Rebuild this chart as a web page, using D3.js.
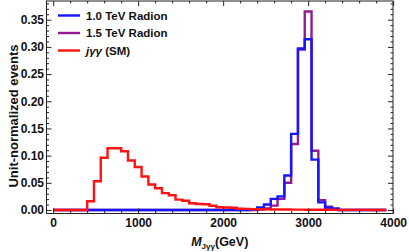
<!DOCTYPE html>
<html>
<head>
<meta charset="utf-8">
<script src="https://cdn.jsdelivr.net/npm/d3@7"></script>
<style>
  body { margin: 0; background: #fff; }
  svg text { font-family: 'Liberation Sans', Arial, sans-serif; font-weight: bold; }
</style>
</head>
<body>
<div id="chart"></div>
<script>
// 80 GeV bins starting at 0 GeV
const binWidth = 80;

const redSM = [0, 0, 0, 0, 0, 0.016, 0.053, 0.096, 0.1135, 0.1135,
  0.108, 0.091, 0.079, 0.0615, 0.047, 0.040, 0.031, 0.027, 0.019, 0.017,
  0.0125, 0.011, 0.0105, 0.0077, 0.005, 0.0045, 0.004, 0.0022, 0.002, 0.0015,
  0.0015, 0.0012, 0.001, 0.001, 0.0008, 0.0006, 0.0006, 0.0005, 0.0005, 0.0004,
  0.0004, 0.0003, 0.0003, 0.0003, 0.0002, 0.0002, 0.0002, 0.0001, 0.0001];

const radion10 = [0, 0, 0, 0, 0, 0, 0, 0, 0, 0,
  0, 0, 0, 0, 0, 0, 0, 0, 0, 0,
  0, 0, 0, 0, 0, 0, 0, 0, 0, 0.001,
  0.0046, 0.010, 0.0205, 0.025, 0.0635, 0.140, 0.297, 0.314, 0.0927, 0.014,
  0.004, 0.003, 0, 0, 0, 0, 0, 0, 0];

const radion15 = [0, 0, 0, 0, 0, 0, 0, 0, 0, 0,
  0, 0, 0, 0, 0, 0, 0, 0, 0, 0,
  0, 0, 0, 0, 0, 0, 0, 0, 0, 0,
  0.001, 0.003, 0.008, 0.0205, 0.050, 0.1215, 0.295, 0.365, 0.109, 0.018,
  0.006, 0.001, 0, 0, 0, 0, 0, 0, 0];

const xTicks = [0, 1000, 2000, 3000, 4000];
const yTicks = [0, 0.05, 0.10, 0.15, 0.20, 0.25, 0.30, 0.35];

const series = [
  { name: '1.5 TeV Radion', values: radion15, color: '#931c90' },
  { name: '1.0 TeV Radion', values: radion10, color: '#1515ff' },
  { name: 'jγγ (SM)', values: redSM, color: '#ff1212' },
];

const width = 409, height = 252;
const frame = { left: 46.5, right: 393, top: 1, bottom: 213.5 };

const svg = d3.select('#chart').append('svg')
  .attr('width', width)
  .attr('height', height);

const x = d3.scaleLinear().domain([-78.4, 3998.4]).range([frame.left, frame.right]);
const y = d3.scaleLinear().domain([-0.00644, 0.3844]).range([frame.bottom, frame.top]);

// histogram step lines
const line = d3.line()
  .curve(d3.curveStepAfter)
  .x(d => x(d.edge))
  .y(d => y(d.value));

const toSteps = vals => {
  const pts = vals.map((v, i) => ({ edge: i * binWidth, value: v }));
  pts.push({ edge: vals.length * binWidth, value: vals[vals.length - 1] });
  return pts;
};

svg.append('g').selectAll('path')
  .data(series)
  .enter()
  .append('path')
  .attr('d', d => line(toSteps(d.values)))
  .attr('fill', 'none')
  .attr('stroke', d => d.color)
  .attr('stroke-width', 2.4)
  .attr('stroke-linejoin', 'miter');

// frame and ticks
const tickColor = '#222';
const minorX = d3.range(0, 4001, 200).filter(v => v % 1000 !== 0);
const minorY = d3.range(0, 0.381, 0.01).filter(v => Math.round(v * 100) % 5 !== 0);

const styleAxis = g => {
  g.select('.domain').remove();
  g.selectAll('line').attr('stroke', tickColor).attr('stroke-width', 1);
  g.selectAll('text').attr('fill', '#111').style('font-size', '12px').style('font-family', null);
};

svg.append('g')
  .attr('transform', `translate(0,${frame.bottom})`)
  .call(d3.axisBottom(x).tickValues(xTicks).tickSize(-5).tickPadding(5).tickFormat(d3.format('d')))
  .call(styleAxis);
svg.append('g')
  .attr('transform', `translate(0,${frame.bottom})`)
  .call(d3.axisBottom(x).tickValues(minorX).tickSize(-2.5).tickFormat(''))
  .call(styleAxis);
svg.append('g')
  .attr('transform', `translate(0,${frame.top})`)
  .call(d3.axisTop(x).tickValues(xTicks).tickSize(-5).tickFormat(''))
  .call(styleAxis);
svg.append('g')
  .attr('transform', `translate(0,${frame.top})`)
  .call(d3.axisTop(x).tickValues(minorX).tickSize(-2.5).tickFormat(''))
  .call(styleAxis);

svg.append('g')
  .attr('transform', `translate(${frame.left},0)`)
  .call(d3.axisLeft(y).tickValues(yTicks).tickSize(-5).tickPadding(2.5).tickFormat(d3.format('.2f')))
  .call(styleAxis);
svg.append('g')
  .attr('transform', `translate(${frame.left},0)`)
  .call(d3.axisLeft(y).tickValues(minorY).tickSize(-2.5).tickFormat(''))
  .call(styleAxis);
svg.append('g')
  .attr('transform', `translate(${frame.right},0)`)
  .call(d3.axisRight(y).tickValues(yTicks).tickSize(-5).tickFormat(''))
  .call(styleAxis);
svg.append('g')
  .attr('transform', `translate(${frame.right},0)`)
  .call(d3.axisRight(y).tickValues(minorY).tickSize(-2.5).tickFormat(''))
  .call(styleAxis);

svg.append('rect')
  .attr('x', frame.left)
  .attr('y', frame.top)
  .attr('width', frame.right - frame.left)
  .attr('height', frame.bottom - frame.top)
  .attr('fill', 'none')
  .attr('stroke', tickColor)
  .attr('stroke-width', 1);

// axis titles
const xTitle = svg.append('text')
  .attr('x', (frame.left + frame.right) / 2)
  .attr('y', 246)
  .attr('text-anchor', 'middle')
  .style('font-size', '12.5px')
  .attr('fill', '#111');
xTitle.append('tspan').style('font-style', 'italic').text('M');
xTitle.append('tspan').attr('dy', 3).style('font-size', '8px').text('Jγγ');
xTitle.append('tspan').attr('dy', -3).text('(GeV)');

svg.append('text')
  .attr('transform', 'translate(17.5,116) rotate(-90)')
  .attr('text-anchor', 'middle')
  .style('font-size', '13px')
  .attr('fill', '#111')
  .text('Unit-normalized events');

// legend
const legendItems = [series[1], series[0], series[2]];
const legend = svg.append('g').selectAll('g')
  .data(legendItems)
  .enter()
  .append('g')
  .attr('transform', (d, i) => `translate(58,${15.5 + i * 17.5})`);

legend.append('line')
  .attr('x1', 0).attr('x2', 22)
  .attr('stroke', d => d.color)
  .attr('stroke-width', 2.4);

legend.append('text')
  .attr('x', 28)
  .attr('y', 4)
  .style('font-size', '11.5px')
  .attr('fill', '#111')
  .each(function(d) {
    const t = d3.select(this);
    if (d.name.startsWith('j')) {
      t.append('tspan').style('font-style', 'italic').text('jγγ');
      t.append('tspan').text(' (SM)');
    } else {
      t.text(d.name);
    }
  });
</script>
</body>
</html>
